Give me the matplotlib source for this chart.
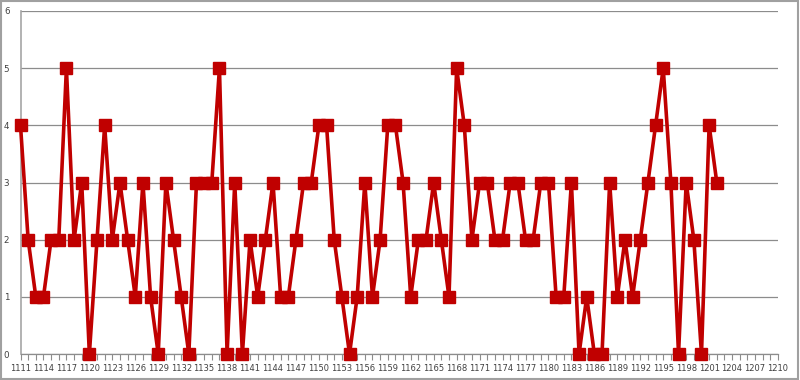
import numpy as np
import matplotlib
matplotlib.use("Agg")
import matplotlib.pyplot as plt
from matplotlib.patches import Rectangle

# === DATA ===
first_id = 1111
last_id = 1210
values = [4, 2, 1, 1, 2, 2, 5, 2, 3, 0,
          2, 4, 2, 3, 2, 1, 3, 1, 0, 3,
          2, 1, 0, 3, 3, 3, 5, 0, 3, 0,
          2, 1, 2, 3, 1, 1, 2, 3, 3, 4,
          4, 2, 1, 0, 1, 3, 1, 2, 4, 4,
          3, 1, 2, 2, 3, 2, 1, 5, 4, 2,
          3, 3, 2, 2, 3, 3, 2, 2, 3, 3,
          1, 1, 3, 0, 1, 0, 0, 3, 1, 2,
          1, 2, 3, 4, 5, 3, 0, 3, 2, 0,
          4, 3]
categories = [str(c) for c in range(first_id, last_id + 1)]
y_ticks = [0, 1, 2, 3, 4, 5, 6]

red = "#C00000"
grid_col = "#8C8C8C"

# === FIGURE ===
fig = plt.figure(figsize=(8, 3.8), dpi=100)
ax = fig.add_axes([20.5 / 800, 26 / 380, 757.5 / 800, 343 / 380])

x = np.arange(len(categories))
ax.plot(x[:len(values)], values, color=red, lw=2.6, marker="s", ms=8.3,
        mfc=red, mec=red, zorder=3, clip_on=False)

ax.set_xlim(0, len(categories) - 1)
ax.set_ylim(0, 6)
ax.set_yticks(y_ticks)
ax.set_yticklabels([str(v) for v in y_ticks], fontsize=6.3, color="#404040")
ax.yaxis.grid(True, color=grid_col, lw=0.9)
ax.set_axisbelow(True)
ax.tick_params(axis="y", length=0, pad=8)

ax.set_xticks(x, minor=True)
ax.set_xticks(x[::3])
ax.set_xticklabels(categories[::3], fontsize=6.0, color="#404040")
ax.tick_params(axis="x", which="both", length=4, color=grid_col, width=0.8, pad=3)

for side in ("top", "right"):
    ax.spines[side].set_visible(False)
ax.spines["left"].set_color("#A6A6A6")
ax.spines["left"].set_linewidth(1.2)
ax.spines["bottom"].set_color(grid_col)
ax.spines["bottom"].set_linewidth(0.9)

# outer chart border
fig.patches.append(Rectangle((0.001, 0.002), 0.997, 0.995, transform=fig.transFigure,
                             fill=False, ec="#A0A0A0", lw=1.5))

fig.savefig("out.png", dpi=100)
